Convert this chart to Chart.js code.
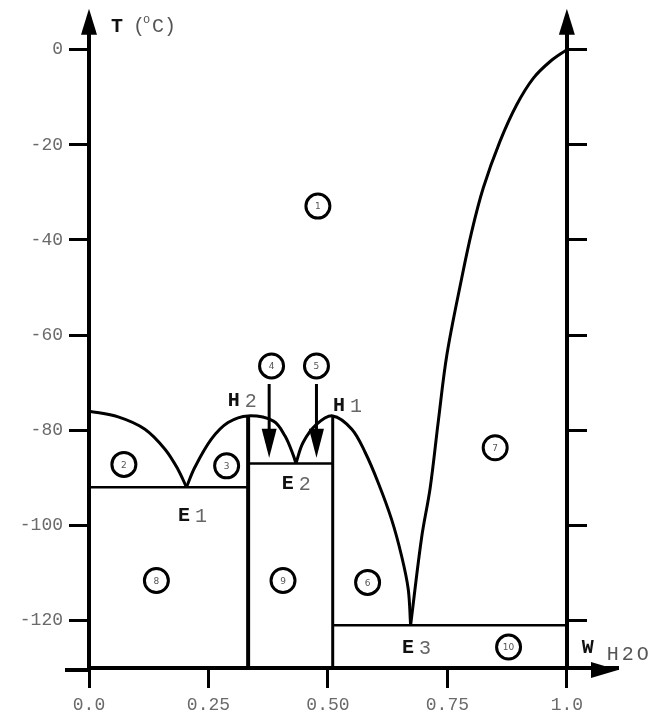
<!DOCTYPE html>
<html>
<head>
<meta charset="utf-8">
<script src="https://cdn.jsdelivr.net/npm/chart.js@4"></script>
<style>
  body { margin: 0; background: #fff; }
  #wrap { width: 659px; height: 717px; position: relative; }
</style>
</head>
<body>
<div id="wrap"><canvas id="chart"></canvas></div>
<script>
// axis ticks: water mass fraction and temperature
const xTicks = [0, 0.25, 0.5, 0.75, 1.0];
const xTickLabels = ['0.0', '0.25', '0.50', '0.75', '1.0'];
const yTicks = [0, -20, -40, -60, -80, -100, -120];

// liquidus branches [w, T]
const liqLeft = [[0, -76], [0.061, -77.2], [0.117, -79.8], [0.159, -84.0], [0.186, -88.2], [0.204, -92]];
const liqH2 = [[0.204, -92], [0.221, -87.9], [0.256, -81.9], [0.291, -78.4], [0.333, -77],
               [0.386, -78.1], [0.41, -81.2], [0.428, -85.4], [0.433, -87]];
const liqH1 = [[0.433, -87], [0.448, -82.6], [0.476, -78.8], [0.51, -77], [0.55, -79.8], [0.578, -84.7],
               [0.605, -91.0], [0.633, -98.7], [0.654, -106.4], [0.668, -113.4], [0.673, -121]];
const liqIce = [[0.673, -121], [0.696, -102.6], [0.714, -92.1], [0.731, -78.1], [0.749, -64.1], [0.78, -48.0],
                [0.801, -38.2], [0.825, -29.1], [0.86, -19.3], [0.895, -11.6], [0.93, -6.0], [0.965, -2.5], [1.0, 0]];

// eutectic lines and hydrate composition lines
const eutectics = [[[0, -92], [0.333, -92]], [[0.333, -87], [0.51, -87]], [[0.51, -121], [1.0, -121]]];
const hydrates = [[[0.333, -77], [0.333, -130]], [[0.51, -77], [0.51, -130]]];

// numbered phase regions
const regionNums = ['1', '2', '3', '4', '5', '6', '7', '8', '9', '10'];
const regionX = [0.479, 0.073, 0.288, 0.382, 0.476, 0.583, 0.85, 0.141, 0.406, 0.878];
const regionY = [-32.9, -87.2, -87.5, -66.5, -66.5, -112.0, -83.7, -111.6, -111.6, -125.6];

// arrows from regions 4 and 5
const arrowX = [0.377, 0.476];
const arrowTop = -70.3;
const arrowTip = -85.8;

// special points
const ptName = ['H', 'H', 'E', 'E', 'E'];
const ptSub = ['2', '1', '1', '2', '3'];
const ptX = [0.2905, 0.5105, 0.186, 0.4036, 0.655];
const ptY = [-74.9, -76.0, -99.1, -92.3, -126.9];

const toXY = arr => arr.map(p => ({x: p[0], y: p[1]}));
const MONO = '"Liberation Mono", "DejaVu Sans Mono", monospace';

let datasets = [];
[liqLeft, liqH2, liqH1, liqIce].forEach(c => {
    datasets.push({data: toXY(c), showLine: true, borderColor: '#000', borderWidth: 3,
        pointRadius: 0, tension: 0.35});
});
eutectics.forEach(l => {
    datasets.push({data: toXY(l), showLine: true, borderColor: '#000', borderWidth: 2.5, pointRadius: 0});
});
hydrates.forEach((l, i) => {
    datasets.push({data: toXY(l), showLine: true, borderColor: '#000', borderWidth: i == 0 ? 4 : 3, pointRadius: 0});
});
arrowX.forEach(v => {
    datasets.push({data: [{x: v, y: arrowTop}, {x: v, y: arrowTip + 3}], showLine: true,
        borderColor: '#000', borderWidth: 3, pointRadius: 0});
});
datasets.push({
    data: regionX.map((v, i) => ({x: v, y: regionY[i]})),
    showLine: false, pointStyle: 'circle', pointRadius: 12, borderWidth: 3,
    borderColor: '#000', backgroundColor: '#fff'
});

const decor = {
    id: 'decor',
    afterDraw(chart) {
        const {ctx, chartArea: a} = chart;
        const xs = chart.scales.x, ys = chart.scales.y;
        const tri = p => {
            ctx.beginPath();
            ctx.moveTo(p[0][0], p[0][1]);
            ctx.lineTo(p[1][0], p[1][1]);
            ctx.lineTo(p[2][0], p[2][1]);
            ctx.closePath();
            ctx.fill();
        };
        const x0 = xs.getPixelForValue(0), x1 = xs.getPixelForValue(1);
        const tipY = a.top - 8;
        ctx.save();
        ctx.fillStyle = '#000';
        // bottom axis runs a bit past the T axis
        ctx.fillRect(x0 - 24, a.bottom, 26, 4);
        // axis arrowheads
        [x0, x1].forEach(px => {
            ctx.fillRect(px - 2, tipY + 10, 4, a.top - tipY);
            tri([[px, tipY], [px - 8, tipY + 26], [px + 8, tipY + 26]]);
        });
        tri([[a.right, a.bottom + 2], [a.right - 27, a.bottom - 6], [a.right - 27, a.bottom + 10]]);
        // arrowheads for 4 and 5
        arrowX.forEach(v => {
            const px = xs.getPixelForValue(v), py = ys.getPixelForValue(arrowTip);
            tri([[px, py], [px - 7.5, py - 29], [px + 7.5, py - 29]]);
        });

        // region numbers
        ctx.fillStyle = '#555';
        ctx.font = '9px "DejaVu Sans"';
        ctx.textAlign = 'center';
        ctx.textBaseline = 'middle';
        regionNums.forEach((t, i) => {
            ctx.fillText(t, xs.getPixelForValue(regionX[i]), ys.getPixelForValue(regionY[i]) + 1);
        });

        // H / E labels
        ctx.textAlign = 'left';
        ctx.textBaseline = 'alphabetic';
        ptName.forEach((t, i) => {
            const px = xs.getPixelForValue(ptX[i]), py = ys.getPixelForValue(ptY[i]);
            ctx.font = 'bold 20px ' + MONO;
            ctx.fillStyle = '#111';
            ctx.fillText(t, px, py);
            ctx.font = '20px ' + MONO;
            ctx.fillStyle = '#666';
            ctx.fillText(ptSub[i], px + 17, py + 1);
        });

        // axis titles
        ctx.font = 'bold 20px ' + MONO;
        ctx.fillStyle = '#111';
        ctx.fillText('T', x0 + 22, tipY + 23);
        ctx.font = '20px ' + MONO;
        ctx.fillStyle = '#555';
        ctx.fillText('(', x0 + 44, tipY + 23);
        ctx.font = '12px ' + MONO;
        ctx.fillText('o', x0 + 54, tipY + 14);
        ctx.font = '20px ' + MONO;
        ctx.fillText('C)', x0 + 63, tipY + 23);
        ctx.font = 'bold 20px ' + MONO;
        ctx.fillStyle = '#111';
        ctx.fillText('W', x1 + 15, a.bottom - 15);
        ctx.font = '20px ' + MONO;
        ctx.fillStyle = '#555';
        ctx.letterSpacing = '3px';
        ctx.fillText('H2O', x1 + 40, a.bottom - 8);
        ctx.restore();
    }
};

new Chart(document.getElementById('chart'), {
    type: 'scatter',
    data: {datasets: datasets},
    options: {
        responsive: true,
        maintainAspectRatio: false,
        animation: false,
        layout: {padding: {left: 0, right: 41, top: 0, bottom: 0}},
        plugins: {legend: {display: false}, tooltip: {enabled: false}},
        scales: {
            x: {
                type: 'linear', position: 'bottom', min: 0, max: 1.107,
                afterBuildTicks: s => { s.ticks = xTicks.map(v => ({value: v})); },
                afterFit: s => { s.height = 49; },
                ticks: {font: {family: MONO, size: 18}, color: '#6a6a6a', padding: 6,
                    callback: (v, i) => xTickLabels[i]},
                grid: {drawOnChartArea: false, tickLength: 20, tickWidth: 3, tickColor: '#000'},
                border: {color: '#000', width: 4}
            },
            y: {
                type: 'linear', position: 'left', min: -130, max: 6.9,
                afterBuildTicks: s => { s.ticks = yTicks.map(v => ({value: v})); },
                afterFit: s => { s.width = 89; },
                ticks: {font: {family: MONO, size: 18}, color: '#6a6a6a', padding: 6},
                grid: {drawOnChartArea: false, tickLength: 20, tickWidth: 3, tickColor: '#000'},
                border: {color: '#000', width: 4}
            },
            y2: {
                type: 'linear', position: {x: 1}, min: -130, max: 6.9,
                afterBuildTicks: s => { s.ticks = yTicks.map(v => ({value: v})); },
                ticks: {display: false},
                grid: {drawOnChartArea: false, tickLength: -22, tickWidth: 3, tickColor: '#000'},
                border: {color: '#000', width: 4}
            }
        }
    },
    plugins: [decor]
});
</script>
</body>
</html>
